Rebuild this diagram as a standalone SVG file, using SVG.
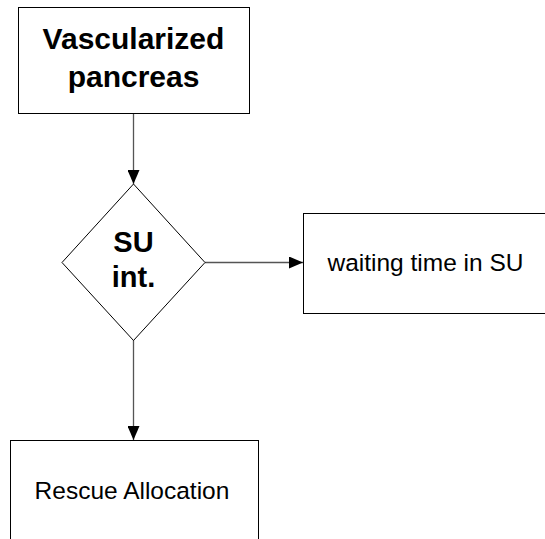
<svg xmlns="http://www.w3.org/2000/svg" width="545" height="539" viewBox="0 0 545 539">
  <style>
    .box { fill: #ffffff; stroke: #000000; stroke-width: 1; }
    .edge { fill: none; stroke: #555555; stroke-width: 1.3; }
    .bold { font-family: "Liberation Sans", Arial, sans-serif; font-weight: bold; font-size: 29px; fill: #000000; text-anchor: middle; }
    .big { font-size: 30px; }
    .reg { font-family: "Liberation Sans", Arial, sans-serif; font-size: 24.5px; fill: #000000; text-anchor: middle; }
  </style>
  <defs>
    <marker id="arrow" viewBox="0 0 14 12" refX="14" refY="6" markerWidth="14" markerHeight="12" markerUnits="userSpaceOnUse" orient="auto">
      <path d="M0,0 L14,6 L0,12 Z" fill="#000000"/>
    </marker>
  </defs>
  <rect width="545" height="539" fill="#ffffff"/>
  <g id="connectors">
    <line class="edge" x1="133.5" y1="113.5" x2="133.5" y2="184" marker-end="url(#arrow)"/>
    <line class="edge" x1="205" y1="262.5" x2="303" y2="262.5" marker-end="url(#arrow)"/>
    <line class="edge" x1="133.5" y1="340" x2="133.5" y2="440" marker-end="url(#arrow)"/>
  </g>
  <g id="vascularized-pancreas">
    <rect class="box" x="18.5" y="7.5" width="231" height="106"/>
    <text class="bold big" x="133.5" y="49">Vascularized</text>
    <text class="bold big" x="133.5" y="87">pancreas</text>
  </g>
  <g id="su-int">
    <polygon class="box" points="133.5,184 205,262.5 133.5,340.5 62,262.5"/>
    <text class="bold" x="133.5" y="252">SU</text>
    <text class="bold" x="133.5" y="287">int.</text>
  </g>
  <g id="waiting-time">
    <rect class="box" x="303.5" y="213.5" width="246" height="100"/>
    <text class="reg" x="425.5" y="271">waiting time in SU</text>
  </g>
  <g id="rescue-allocation">
    <rect class="box" x="10.5" y="440.5" width="248" height="110"/>
    <text class="reg" x="132" y="499">Rescue Allocation</text>
  </g>
</svg>
